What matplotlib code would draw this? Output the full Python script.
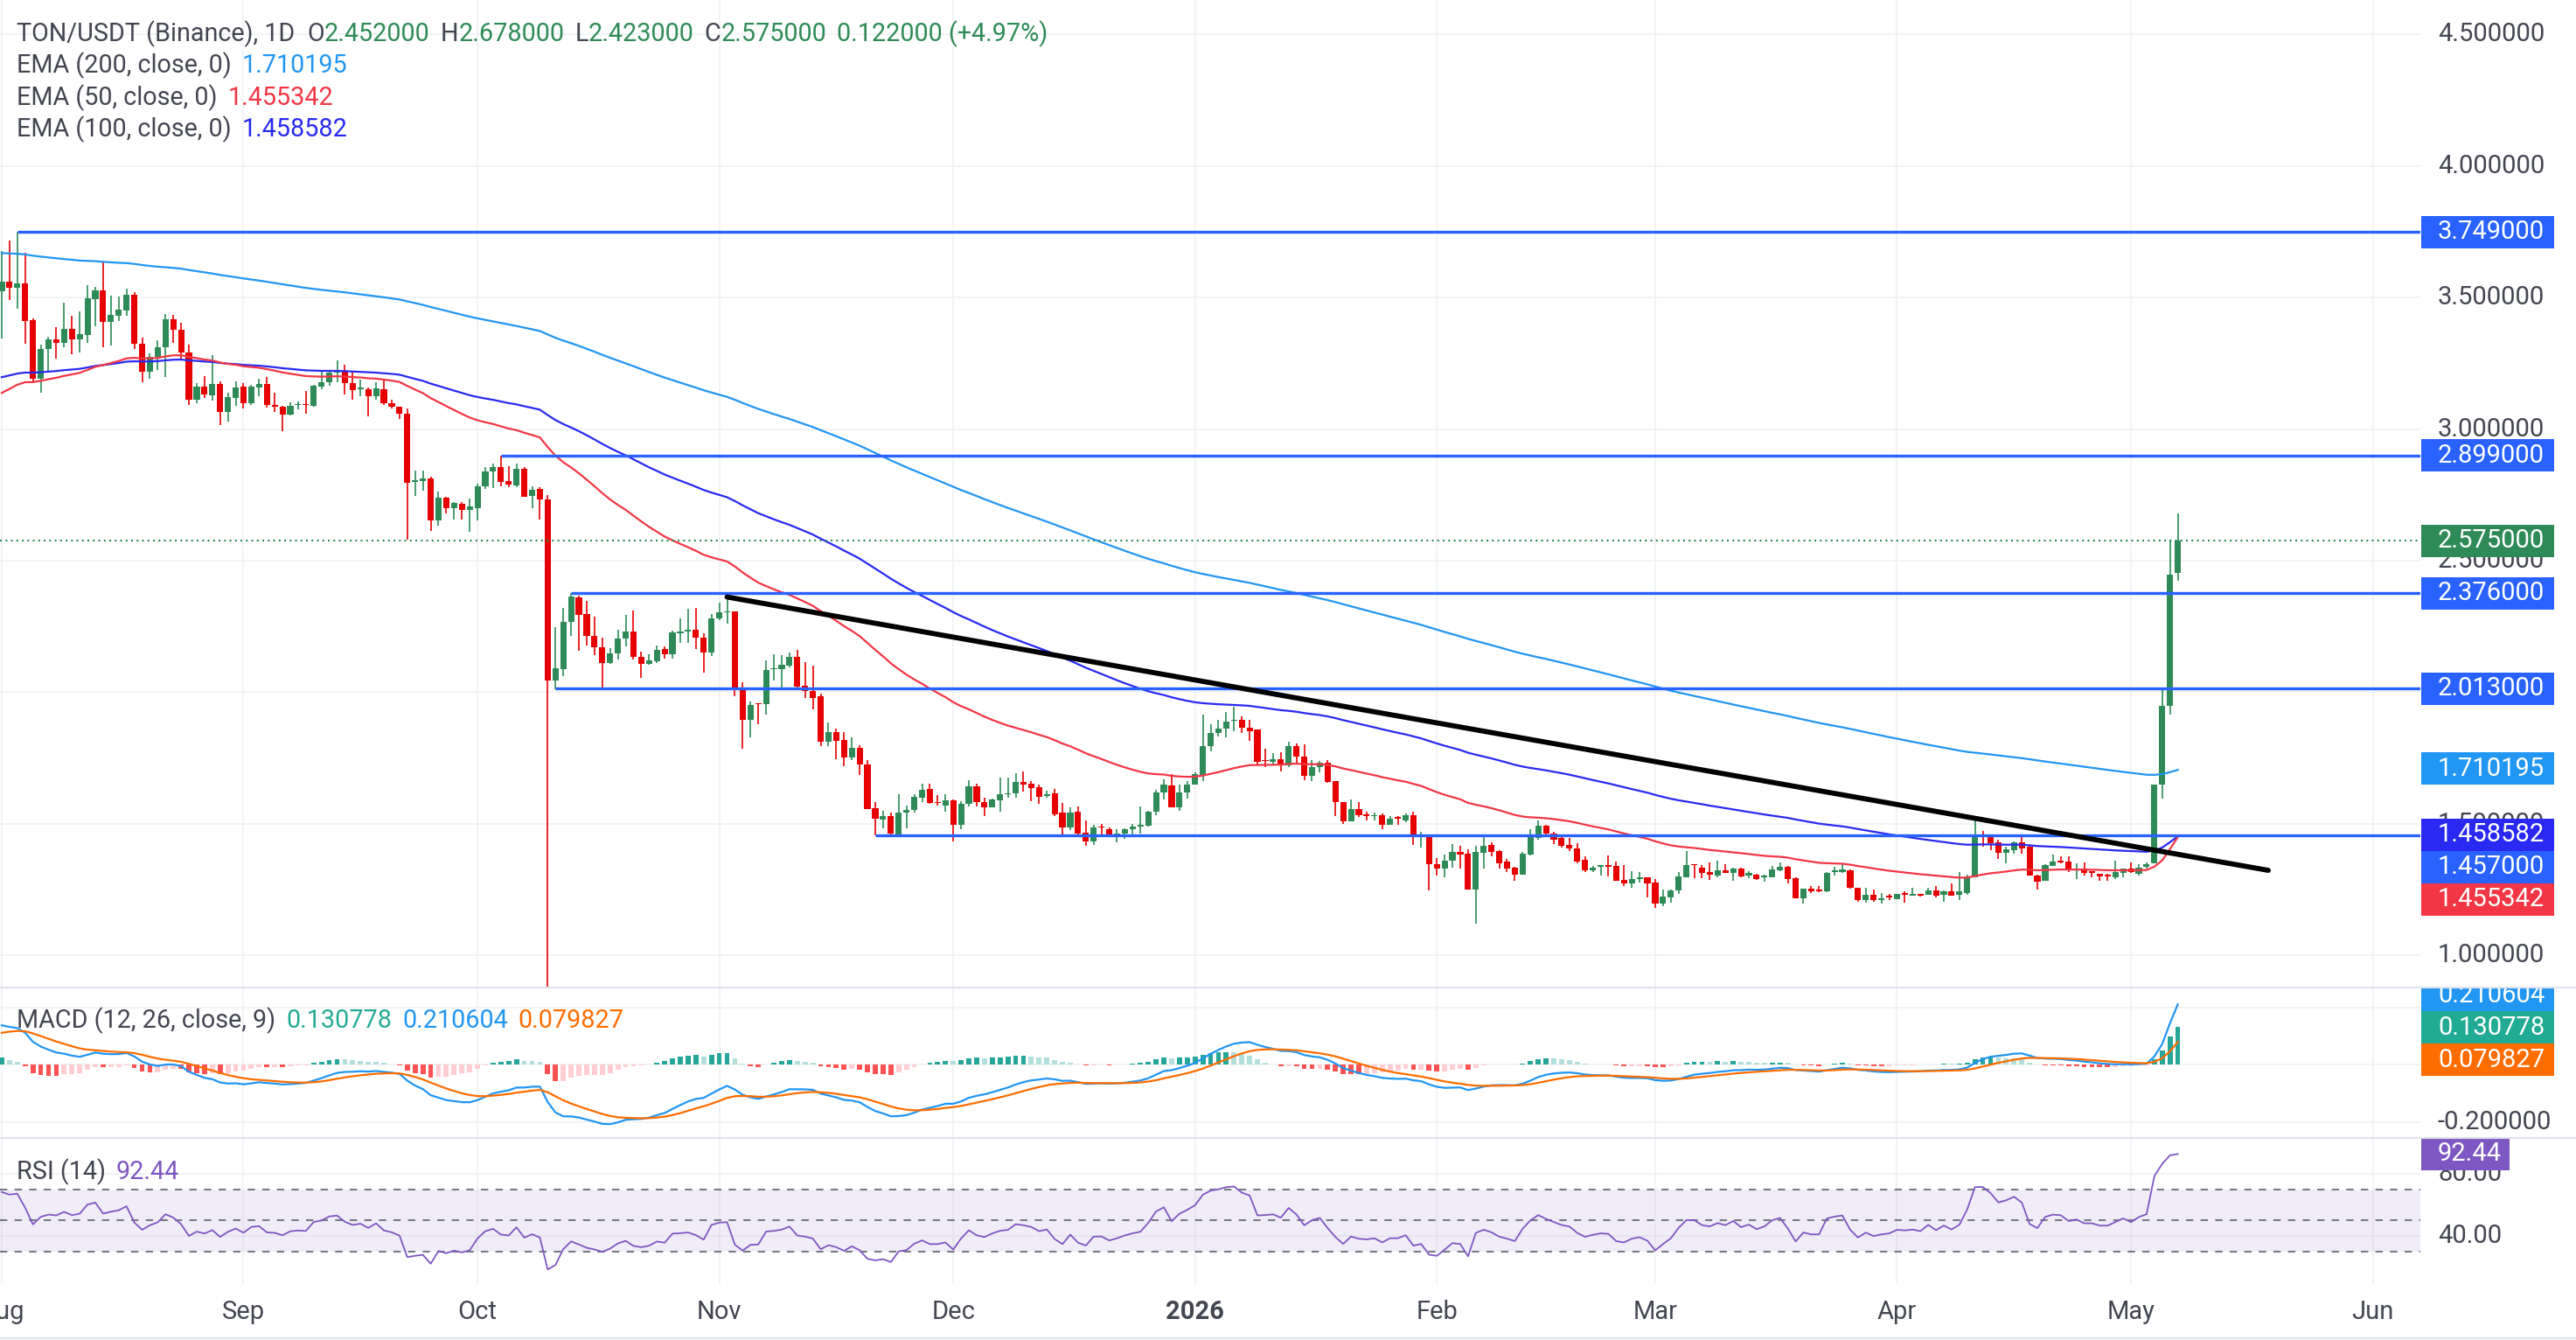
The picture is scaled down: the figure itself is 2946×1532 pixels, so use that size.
import numpy as np
import pandas as pd
import matplotlib
matplotlib.use("Agg")
import matplotlib.pyplot as plt
import matplotlib.transforms as mtransforms
from matplotlib.patches import Rectangle
from matplotlib.lines import Line2D

# TON/USDT daily candles, 1 Aug 2025 .. 7 May 2026
start_date = "2025-08-01"

opens = [
    3.523, 3.562, 3.536, 3.554, 3.414, 3.190, 3.303, 3.341, 3.329, 3.381,
    3.342, 3.359, 3.495, 3.528, 3.407, 3.432, 3.451, 3.510, 3.323, 3.218,
    3.274, 3.310, 3.417, 3.377, 3.292, 3.111, 3.163, 3.130, 3.171, 3.066,
    3.118, 3.163, 3.100, 3.159, 3.172, 3.093, 3.085, 3.054, 3.091, 3.095,
    3.089, 3.163, 3.179, 3.215, 3.222, 3.174, 3.152, 3.152, 3.124, 3.152,
    3.100, 3.085, 3.058, 2.800, 2.803, 2.811, 2.653, 2.738, 2.701, 2.716,
    2.692, 2.701, 2.783, 2.839, 2.856, 2.803, 2.786, 2.849, 2.747, 2.772,
    2.734, 2.046, 2.088, 2.266, 2.361, 2.297, 2.213, 2.172, 2.112, 2.147,
    2.203, 2.231, 2.133, 2.108, 2.119, 2.164, 2.143, 2.224, 2.231, 2.238,
    2.206, 2.150, 2.280, 2.304, 2.307, 2.010, 1.894, 1.957, 1.954, 2.087,
    2.087, 2.102, 2.134, 2.024, 2.005, 1.986, 1.813, 1.847, 1.819, 1.753,
    1.789, 1.724, 1.559, 1.517, 1.528, 1.458, 1.541, 1.553, 1.600, 1.631,
    1.584, 1.570, 1.589, 1.495, 1.575, 1.641, 1.584, 1.564, 1.589, 1.611,
    1.615, 1.658, 1.652, 1.639, 1.606, 1.615, 1.541, 1.487, 1.545, 1.466,
    1.432, 1.491, 1.481, 1.450, 1.462, 1.478, 1.489, 1.493, 1.545, 1.619,
    1.644, 1.564, 1.619, 1.650, 1.685, 1.794, 1.844, 1.861, 1.891, 1.894,
    1.866, 1.858, 1.742, 1.736, 1.744, 1.722, 1.794, 1.755, 1.681, 1.714,
    1.732, 1.661, 1.581, 1.509, 1.556, 1.536, 1.528, 1.531, 1.497, 1.525,
    1.514, 1.534, 1.451, 1.453, 1.345, 1.331, 1.359, 1.392, 1.386, 1.251,
    1.390, 1.420, 1.397, 1.356, 1.334, 1.307, 1.384, 1.445, 1.492, 1.464,
    1.445, 1.420, 1.406, 1.362, 1.323, 1.336, 1.342, 1.340, 1.287, 1.273,
    1.290, 1.296, 1.275, 1.196, 1.221, 1.246, 1.298, 1.345, 1.334, 1.318,
    1.304, 1.323, 1.312, 1.329, 1.304, 1.307, 1.298, 1.298, 1.323, 1.336,
    1.293, 1.218, 1.253, 1.249, 1.242, 1.318, 1.318, 1.323, 1.257, 1.209,
    1.231, 1.209, 1.227, 1.212, 1.238, 1.227, 1.234, 1.231, 1.246, 1.229,
    1.242, 1.229, 1.238, 1.298, 1.453, 1.448, 1.428, 1.390, 1.401, 1.428,
    1.412, 1.304, 1.282, 1.340, 1.360, 1.356, 1.326, 1.329, 1.320, 1.309,
    1.307, 1.295, 1.312, 1.329, 1.309, 1.338, 1.349, 1.648, 1.947, 2.452,
]
highs = [
    3.678, 3.717, 3.749, 3.669, 3.421, 3.321, 3.351, 3.388, 3.481, 3.431,
    3.448, 3.547, 3.539, 3.636, 3.506, 3.503, 3.534, 3.521, 3.348, 3.288,
    3.337, 3.437, 3.434, 3.403, 3.321, 3.174, 3.202, 3.281, 3.182, 3.137,
    3.182, 3.174, 3.168, 3.193, 3.198, 3.137, 3.089, 3.102, 3.104, 3.144,
    3.168, 3.224, 3.226, 3.262, 3.246, 3.222, 3.188, 3.159, 3.177, 3.193,
    3.111, 3.085, 3.077, 2.841, 2.841, 2.819, 2.764, 2.742, 2.723, 2.723,
    2.736, 2.792, 2.856, 2.870, 2.899, 2.860, 2.870, 2.856, 2.781, 2.779,
    2.748, 2.248, 2.319, 2.376, 2.368, 2.346, 2.287, 2.207, 2.168, 2.238,
    2.294, 2.312, 2.154, 2.143, 2.178, 2.175, 2.234, 2.280, 2.318, 2.319,
    2.224, 2.298, 2.340, 2.362, 2.307, 2.038, 1.965, 1.957, 2.121, 2.143,
    2.140, 2.151, 2.160, 2.113, 2.101, 1.996, 1.885, 1.863, 1.847, 1.827,
    1.797, 1.741, 1.584, 1.550, 1.541, 1.613, 1.569, 1.613, 1.652, 1.652,
    1.609, 1.613, 1.592, 1.586, 1.664, 1.652, 1.598, 1.595, 1.674, 1.674,
    1.691, 1.698, 1.661, 1.648, 1.626, 1.633, 1.578, 1.561, 1.565, 1.511,
    1.495, 1.498, 1.486, 1.478, 1.484, 1.498, 1.565, 1.550, 1.628, 1.669,
    1.689, 1.650, 1.661, 1.697, 1.914, 1.880, 1.894, 1.925, 1.944, 1.907,
    1.894, 1.860, 1.785, 1.768, 1.772, 1.811, 1.805, 1.802, 1.742, 1.739,
    1.742, 1.661, 1.584, 1.591, 1.581, 1.545, 1.541, 1.539, 1.530, 1.528,
    1.539, 1.547, 1.471, 1.453, 1.370, 1.382, 1.423, 1.417, 1.403, 1.417,
    1.453, 1.431, 1.401, 1.367, 1.336, 1.393, 1.478, 1.512, 1.495, 1.471,
    1.448, 1.445, 1.425, 1.375, 1.340, 1.342, 1.379, 1.356, 1.342, 1.320,
    1.318, 1.298, 1.290, 1.249, 1.251, 1.315, 1.395, 1.345, 1.342, 1.353,
    1.359, 1.345, 1.334, 1.334, 1.320, 1.309, 1.307, 1.340, 1.353, 1.340,
    1.295, 1.253, 1.264, 1.262, 1.315, 1.338, 1.349, 1.327, 1.257, 1.257,
    1.249, 1.238, 1.234, 1.234, 1.242, 1.257, 1.234, 1.257, 1.262, 1.246,
    1.273, 1.315, 1.307, 1.512, 1.473, 1.459, 1.440, 1.412, 1.434, 1.453,
    1.415, 1.307, 1.345, 1.384, 1.375, 1.375, 1.351, 1.353, 1.320, 1.309,
    1.309, 1.360, 1.329, 1.353, 1.345, 1.353, 1.650, 2.019, 2.579, 2.678,
]
lows = [
    3.346, 3.492, 3.456, 3.326, 3.174, 3.137, 3.218, 3.268, 3.310, 3.285,
    3.292, 3.329, 3.392, 3.310, 3.318, 3.410, 3.432, 3.303, 3.179, 3.193,
    3.226, 3.199, 3.329, 3.266, 3.091, 3.100, 3.118, 3.107, 3.015, 3.030,
    3.089, 3.077, 3.091, 3.124, 3.082, 3.066, 2.993, 3.052, 3.074, 3.060,
    3.085, 3.152, 3.166, 3.179, 3.133, 3.111, 3.124, 3.049, 3.111, 3.093,
    3.077, 3.040, 2.579, 2.747, 2.767, 2.612, 2.634, 2.681, 2.656, 2.656,
    2.609, 2.653, 2.772, 2.776, 2.783, 2.779, 2.779, 2.742, 2.700, 2.655,
    0.850, 2.011, 2.060, 2.213, 2.158, 2.179, 2.140, 2.011, 2.109, 2.123,
    2.175, 2.123, 2.056, 2.104, 2.112, 2.129, 2.129, 2.186, 2.189, 2.165,
    2.073, 2.136, 2.273, 2.260, 1.985, 1.785, 1.830, 1.879, 1.916, 2.046,
    2.018, 2.093, 2.014, 1.977, 1.935, 1.794, 1.796, 1.747, 1.720, 1.741,
    1.687, 1.556, 1.456, 1.484, 1.456, 1.451, 1.484, 1.541, 1.584, 1.575,
    1.570, 1.547, 1.434, 1.480, 1.567, 1.567, 1.528, 1.561, 1.547, 1.600,
    1.598, 1.622, 1.587, 1.575, 1.600, 1.530, 1.458, 1.476, 1.458, 1.417,
    1.421, 1.459, 1.448, 1.428, 1.442, 1.448, 1.462, 1.489, 1.534, 1.591,
    1.561, 1.548, 1.595, 1.650, 1.663, 1.774, 1.833, 1.830, 1.852, 1.844,
    1.814, 1.725, 1.714, 1.725, 1.700, 1.716, 1.733, 1.667, 1.663, 1.694,
    1.655, 1.530, 1.500, 1.509, 1.525, 1.514, 1.511, 1.480, 1.495, 1.497,
    1.506, 1.421, 1.408, 1.246, 1.304, 1.295, 1.334, 1.331, 1.251, 1.122,
    1.331, 1.376, 1.331, 1.318, 1.284, 1.307, 1.381, 1.440, 1.448, 1.423,
    1.408, 1.397, 1.349, 1.318, 1.318, 1.304, 1.301, 1.284, 1.264, 1.257,
    1.276, 1.220, 1.181, 1.187, 1.201, 1.235, 1.298, 1.293, 1.293, 1.288,
    1.298, 1.312, 1.284, 1.296, 1.292, 1.287, 1.281, 1.296, 1.320, 1.273,
    1.216, 1.198, 1.238, 1.240, 1.240, 1.304, 1.312, 1.253, 1.205, 1.201,
    1.205, 1.196, 1.209, 1.212, 1.201, 1.227, 1.224, 1.231, 1.220, 1.205,
    1.227, 1.209, 1.231, 1.295, 1.412, 1.398, 1.367, 1.351, 1.386, 1.386,
    1.304, 1.251, 1.282, 1.340, 1.351, 1.315, 1.290, 1.304, 1.295, 1.284,
    1.282, 1.290, 1.298, 1.312, 1.304, 1.331, 1.349, 1.597, 1.914, 2.423,
]
closes = [
    3.562, 3.536, 3.554, 3.412, 3.190, 3.303, 3.340, 3.329, 3.381, 3.342,
    3.361, 3.497, 3.528, 3.407, 3.434, 3.453, 3.510, 3.323, 3.218, 3.274,
    3.310, 3.418, 3.377, 3.292, 3.111, 3.163, 3.133, 3.171, 3.066, 3.122,
    3.159, 3.100, 3.163, 3.172, 3.091, 3.085, 3.054, 3.089, 3.096, 3.091,
    3.166, 3.179, 3.215, 3.222, 3.174, 3.148, 3.157, 3.124, 3.155, 3.100,
    3.085, 3.058, 2.797, 2.805, 2.811, 2.653, 2.738, 2.701, 2.719, 2.692,
    2.705, 2.783, 2.838, 2.856, 2.800, 2.790, 2.849, 2.744, 2.769, 2.734,
    2.046, 2.091, 2.266, 2.364, 2.294, 2.213, 2.172, 2.112, 2.147, 2.203,
    2.231, 2.133, 2.108, 2.122, 2.161, 2.143, 2.227, 2.231, 2.238, 2.206,
    2.150, 2.281, 2.304, 2.308, 2.010, 1.896, 1.951, 1.954, 2.084, 2.091,
    2.104, 2.134, 2.021, 2.005, 1.979, 1.813, 1.847, 1.816, 1.753, 1.789,
    1.724, 1.556, 1.519, 1.528, 1.464, 1.543, 1.553, 1.602, 1.628, 1.578,
    1.578, 1.589, 1.497, 1.575, 1.641, 1.584, 1.564, 1.591, 1.611, 1.617,
    1.658, 1.650, 1.637, 1.604, 1.614, 1.536, 1.487, 1.542, 1.464, 1.432,
    1.486, 1.487, 1.450, 1.462, 1.478, 1.489, 1.497, 1.545, 1.619, 1.650,
    1.564, 1.619, 1.650, 1.689, 1.794, 1.844, 1.861, 1.888, 1.896, 1.866,
    1.852, 1.736, 1.739, 1.744, 1.724, 1.794, 1.755, 1.681, 1.716, 1.732,
    1.659, 1.581, 1.509, 1.556, 1.534, 1.528, 1.534, 1.497, 1.519, 1.519,
    1.534, 1.448, 1.456, 1.345, 1.331, 1.360, 1.392, 1.384, 1.251, 1.393,
    1.417, 1.393, 1.351, 1.331, 1.307, 1.386, 1.448, 1.492, 1.464, 1.440,
    1.417, 1.406, 1.356, 1.323, 1.334, 1.342, 1.338, 1.284, 1.273, 1.290,
    1.296, 1.273, 1.196, 1.223, 1.248, 1.299, 1.342, 1.342, 1.314, 1.307,
    1.323, 1.312, 1.331, 1.301, 1.312, 1.290, 1.301, 1.326, 1.336, 1.290,
    1.216, 1.253, 1.242, 1.242, 1.312, 1.322, 1.327, 1.257, 1.209, 1.231,
    1.209, 1.216, 1.220, 1.234, 1.231, 1.234, 1.227, 1.248, 1.227, 1.242,
    1.227, 1.242, 1.301, 1.448, 1.448, 1.426, 1.390, 1.404, 1.428, 1.406,
    1.304, 1.279, 1.342, 1.356, 1.353, 1.323, 1.331, 1.312, 1.312, 1.301,
    1.301, 1.315, 1.329, 1.315, 1.334, 1.345, 1.648, 1.947, 2.446, 2.575,
]

# horizontal levels and the candle where each one starts
level_prices = [3.749, 2.899, 2.376, 2.013, 1.457]
level_starts = [2, 64, 73, 71, 112]

# falling trendline (candle index, price)
trend_x = [93, 290.6]
trend_y = [2.362, 1.323]

# indicator state just before the first candle (read from the left edge)
ema_seeds = {200: 3.67, 100: 3.19, 50: 3.12}
macd_seeds = (3.46, 3.32, 0.105)      # ema12, ema26, signal
rsi_seeds = (0.055, 0.027, 3.523)     # avg gain, avg loss, prev close

# values printed in the legends / price scale
ema_labels = {200: "1.710195", 50: "1.455342", 100: "1.458582"}
ema_values = {200: 1.710195, 50: 1.455342, 100: 1.458582}
macd_vals = {"hist": 0.130778, "macd": 0.210604, "signal": 0.079827}
rsi_last = 92.44
last_price = 2.575

# ---- colours
GREEN = "#2E8B57"
RED = "#E60000"
LEVEL = "#2962FF"
C_EMA = {200: "#2196F3", 50: "#F23645", 100: "#2929F2"}
TXT = "#434651"
GRID = "#F0F1F4"

plt.rcParams["font.family"] = ["Roboto", "DejaVu Sans"]

W, H = 2946, 1532
RIGHT = 2768
fig = plt.figure(figsize=(W / 100, H / 100), dpi=100)


def pane(top, bottom):
    ax = fig.add_axes([0, 1 - bottom / H, RIGHT / W, (bottom - top) / H])
    sc = fig.add_axes([RIGHT / W, 1 - bottom / H, 1 - RIGHT / W, (bottom - top) / H])
    for a in (ax, sc):
        for s in a.spines.values():
            s.set_visible(False)
        a.set_xticks([])
        a.set_yticks([])
        a.patch.set_alpha(0)
    sc.set_xlim(0, W - RIGHT)
    return ax, sc


ax, sc = pane(0, 1128)
axm, scm = pane(1129, 1300)
axr, scr = pane(1301, 1468)

o = np.array(opens)
h = np.array(highs)
lo = np.array(lows)
c = np.array(closes)
n = len(c)
x = np.arange(n)

XMIN, XMAX = -0.22, 310.1
for a in (ax, axm, axr):
    a.set_xlim(XMIN, XMAX)
ax.set_ylim(0.881, 4.631)
axm.set_ylim(-0.253, 0.270)
axr.set_ylim(9.5, 102.7)
sc.set_ylim(ax.get_ylim())
scm.set_ylim(axm.get_ylim())
scr.set_ylim(axr.get_ylim())

# month grid
t0 = pd.Timestamp(start_date)
months = pd.date_range(t0, "2026-06-01", freq="MS")
mpos = [(m - t0).days for m in months]
for a in (ax, axm, axr):
    for p in mpos:
        a.axvline(p, color=GRID, lw=1.2, zorder=0)

price_ticks = np.arange(1.0, 4.51, 0.5)
for t in price_ticks:
    ax.axhline(t, color=GRID, lw=1.2, zorder=0)
for t in (-0.2, 0.0, 0.2):
    axm.axhline(t, color=GRID, lw=1.2, zorder=0)
for t in (80, 40):
    axr.axhline(t, color=GRID, lw=1.2, zorder=0)

# ---- indicators
def ema(vals, span, seed):
    a = 2 / (span + 1)
    out, e = [], seed
    for v in vals:
        e = e + a * (v - e)
        out.append(e)
    return np.array(out)


emas = {k: ema(c, k, s) for k, s in ema_seeds.items()}
fast = ema(c, 12, macd_seeds[0])
slow = ema(c, 26, macd_seeds[1])
macd = fast - slow
signal = ema(macd, 9, macd_seeds[2])
hist = macd - signal

ag, al, pc = rsi_seeds
rsi = []
for v in c:
    d = v - pc
    ag = (ag * 13 + max(d, 0)) / 14
    al = (al * 13 + max(-d, 0)) / 14
    rsi.append(100 - 100 / (1 + ag / al))
    pc = v
rsi = np.array(rsi)

# ---- candles
up = c >= o
col = np.where(up, GREEN, RED)
ax.vlines(x, lo, h, colors=col, lw=1.2, zorder=2)
ax.bar(x, np.maximum(np.abs(c - o), 0.004), bottom=np.minimum(o, c), width=0.8,
       color=col, linewidth=0, zorder=3)

for k in (200, 100, 50):
    ax.plot(x, emas[k], color=C_EMA[k], lw=1.6, zorder=4)

for p, s in zip(level_prices, level_starts):
    ax.hlines(p, s, XMAX, color=LEVEL, lw=2.4, zorder=5)
ax.plot(trend_x, trend_y, color="black", lw=4.2, solid_capstyle="round", zorder=6)
ax.axhline(last_price, color=GREEN, lw=1.5, ls=(0, (1, 2)), zorder=5)

# ---- MACD pane
prev = np.r_[hist[0], hist[:-1]]
hcol = np.where(hist >= 0, np.where(hist >= prev, "#26A69A", "#B2DFDB"),
                np.where(hist < prev, "#FF5252", "#FFCDD2"))
axm.bar(x, hist, width=0.65, color=hcol, linewidth=0, zorder=2)
axm.plot(x, macd, color="#2196F3", lw=1.6, zorder=3)
axm.plot(x, signal, color="#FF6D00", lw=1.6, zorder=3)

# ---- RSI pane
axr.axhspan(30, 70, xmax=1, color="#7E57C2", alpha=0.1, lw=0, zorder=0)
for lvl in (70, 50, 30):
    axr.axhline(lvl, color="#787B86", lw=1.5, ls=(0, (4, 4)), zorder=1)
axr.plot(x, rsi, color="#7E57C2", lw=1.3, zorder=3)

# ---- price scales
FS = 21


def tick_text(s, y, txt):
    s.text(20, y, txt, color=TXT, fontsize=FS, va="center", ha="left", zorder=2, clip_on=True)


def stack(vals, anchor, px_per_unit, gap=37):
    ys = list(vals)
    g = gap / px_per_unit
    for k in range(anchor - 1, -1, -1):
        ys[k] = max(ys[k], ys[k + 1] + g)
    for k in range(anchor + 1, len(ys)):
        ys[k] = min(ys[k], ys[k - 1] - g)
    return ys


def boxes(s, labels, anchor, px_per_unit):
    vals = [v for v, _, _ in labels]
    ys = stack(vals, anchor, px_per_unit)
    bh = 37 / px_per_unit
    for (v, txt, bg), y in zip(labels, ys):
        w = 17 * len(txt) + 16
        s.add_patch(Rectangle((1, y - bh / 2), w, bh, color=bg, lw=0, zorder=5, clip_on=True))
        s.text(20, y, txt, color="white", fontsize=FS, va="center", ha="left",
               zorder=6, clip_on=True)


for t in price_ticks:
    tick_text(sc, t, f"{t:.6f}")
main_labels = [
    (3.749, "3.749000", LEVEL),
    (2.899, "2.899000", LEVEL),
    (last_price, "2.575000", GREEN),
    (2.376, "2.376000", LEVEL),
    (2.013, "2.013000", LEVEL),
    (ema_values[200], ema_labels[200], C_EMA[200]),
    (ema_values[100], ema_labels[100], C_EMA[100]),
    (1.457, "1.457000", LEVEL),
    (ema_values[50], ema_labels[50], C_EMA[50]),
]
boxes(sc, main_labels, 6, 300.8)

for t in (0.2, 0.0, -0.2):
    tick_text(scm, t, f"{t:.6f}")
macd_labels = [
    (macd_vals["macd"], f"{macd_vals['macd']:.6f}", "#2196F3"),
    (macd_vals["hist"], f"{macd_vals['hist']:.6f}", "#22AB94"),
    (macd_vals["signal"], f"{macd_vals['signal']:.6f}", "#FF6D00"),
]
boxes(scm, macd_labels, 1, 327)

for t in (80, 40):
    tick_text(scr, t, f"{t:.2f}")
boxes(scr, [(rsi_last, f"{rsi_last:.2f}", "#7E57C2")], 0, 1.79)

# ---- time axis
blend = mtransforms.blended_transform_factory(axr.transData, axr.transAxes)
for p, m in zip(mpos, months):
    lab = "2026" if m.month == 1 else m.strftime("%b")
    axr.text(p, -32 / 167, lab, transform=blend, ha="center", va="center",
             fontsize=FS, color=TXT, fontweight="bold" if m.month == 1 else "normal",
             clip_on=False)

# pane separators
for yy in (1128.5, 1300.5):
    fig.add_artist(Line2D([0, 1], [1 - yy / H] * 2, transform=fig.transFigure,
                          color="#E0E3EB", lw=1.6))
fig.add_artist(Line2D([0, 1], [1 - 1530 / H] * 2, transform=fig.transFigure,
                      color="#E0E3EB", lw=1.6))

# ---- legends
rend = fig.canvas.get_renderer()


def legend_row(y_px, parts, size=20.7):
    xx = 19
    for s, colr, gap in parts:
        t = fig.text(xx / W, 1 - y_px / H, s, color=colr, fontsize=size, va="center", ha="left")
        xx += t.get_window_extent(rend).width + gap


legend_row(39, [("TON/USDT (Binance), 1D", TXT, 14),
                ("O", TXT, 0), ("2.452000", GREEN, 12),
                ("H", TXT, 0), ("2.678000", GREEN, 12),
                ("L", TXT, 0), ("2.423000", GREEN, 12),
                ("C", TXT, 0), ("2.575000", GREEN, 12),
                ("0.122000 (+4.97%)", GREEN, 0)])
legend_row(75, [("EMA (200, close, 0)", TXT, 12), (ema_labels[200], C_EMA[200], 0)])
legend_row(112, [("EMA (50, close, 0)", TXT, 12), (ema_labels[50], C_EMA[50], 0)])
legend_row(148, [("EMA (100, close, 0)", TXT, 12), (ema_labels[100], C_EMA[100], 0)])
legend_row(1167, [("MACD (12, 26, close, 9)", TXT, 12),
                  (f"{macd_vals['hist']:.6f}", "#22AB94", 12),
                  (f"{macd_vals['macd']:.6f}", "#2196F3", 12),
                  (f"{macd_vals['signal']:.6f}", "#FF6D00", 0)])
legend_row(1340, [("RSI (14)", TXT, 12), (f"{rsi_last:.2f}", "#7E57C2", 0)])

fig.savefig("out.png", dpi=100)
